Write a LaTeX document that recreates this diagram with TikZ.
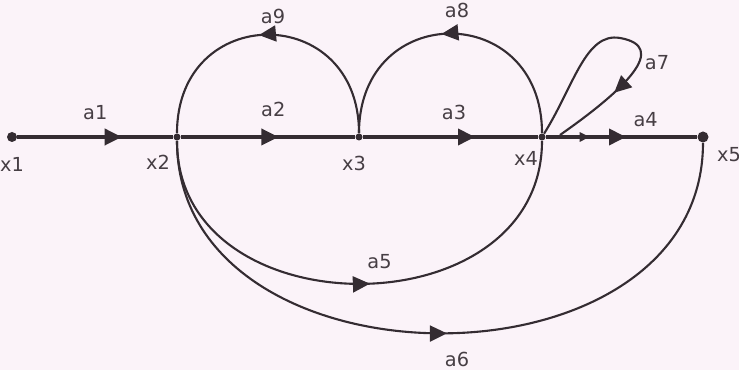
\documentclass[tikz,border=0pt]{standalone}
\usepackage{fontspec}
\setmainfont{DejaVu Sans}
\usetikzlibrary{positioning,arrows.meta,decorations.markings}
\definecolor{ink}{RGB}{52,44,50}
\definecolor{txt}{RGB}{70,62,68}
\definecolor{paper}{RGB}{251,243,249}

\begin{document}
\begin{tikzpicture}[
    dot/.style={
        circle,
        fill=ink,
        inner sep=0pt,
        minimum size=2mm
    },
    junc/.style={
        circle,
        fill=ink,
        inner sep=0pt,
        minimum size=1.4mm
    },
    lbl/.style={
        text=txt,
        inner sep=0pt,
        font=\fontsize{11}{13}\selectfont
    },
    branch/.style={ink, line width=2pt},
    loopline/.style={ink, line width=1.2pt},
    tri at/.style={postaction={decorate, decoration={markings,
        mark=at position #1 with {\arrow{Triangle[length=3.4mm, width=3.2mm]}}}}},
    small tri at/.style={postaction={decorate, decoration={markings,
        mark=at position #1 with {\arrow{Triangle[length=2mm, width=1.8mm]}}}}}
]
    \useasboundingbox (0,0) rectangle (14.78,7.4);
    \fill[paper] (0,0) rectangle (14.78,7.4);

    % Signal nodes
    \node[dot] (x1) at (0.24,4.66) {};
    \node[junc] (x2) at (3.54,4.66) {};
    \node[junc] (x3) at (7.18,4.66) {};
    \node[junc] (x4) at (10.84,4.66) {};
    \node[dot, minimum size=2.2mm] (x5) at (14.06,4.66) {};
    \coordinate (x4r) at (11.2,4.7);
    \coordinate (a7top) at (12.4,6.64);

    % Forward branches
    \draw[branch, tri at=0.67] (x1) -- node[lbl, above=0.3cm] (la1) {a1} (x2);
    \draw[branch, tri at=0.56] (x2) -- node[lbl, pos=0.53, above=0.36cm] (la2) {a2} (x3);
    \draw[branch, tri at=0.64] (x3) -- node[lbl, pos=0.52, above=0.3cm] (la3) {a3} (x4);
    \draw[branch, small tri at=0.29, tri at=0.53] (x4) -- node[lbl, pos=0.66, above=0.16cm] (la4) {a4} (x5);

    % Feedback loops
    \draw[loopline, tri at=0.53] (x3) to[out=90, in=90, looseness=1.85]
        node[lbl, above=0.2cm, xshift=0.1cm] (la9) {a9} (x2);
    \draw[loopline, tri at=0.53] (x4) to[out=90, in=90, looseness=1.86]
        node[lbl, above=0.3cm, xshift=0.13cm] (la8) {a8} (x3);
    \draw[loopline, tri at=0.75] (x4) .. controls +(58:1.2) and +(170:0.7) .. (a7top)
        .. controls +(-10:1) and +(35:1.6) .. (x4r);

    % Forward bypasses
    \draw[loopline, tri at=0.52] (x2) to[out=-90, in=-90, looseness=1.34]
        node[lbl, above=0.28cm, xshift=0.4cm] (la5) {a5} (x4);
    \draw[loopline, tri at=0.51] (x2) to[out=-90, in=-90, looseness=1.24]
        node[lbl, below=0.36cm, xshift=0.34cm] (la6) {a6} (x5);

    % Labels
    \node[lbl] (la7) at (13.14,6.14) {a7};
    \node[lbl, below=0.3cm of x1] (lx1) {x1};
    \node[lbl, below=0.28cm of x2, xshift=-0.38cm] (lx2) {x2};
    \node[lbl, below=0.3cm of x3, xshift=-0.1cm] (lx3) {x3};
    \node[lbl, below=0.2cm of x4, xshift=-0.32cm] (lx4) {x4};
    \node[lbl, right=0.16cm of x5, yshift=-0.36cm] (lx5) {x5};
\end{tikzpicture}
\end{document}
